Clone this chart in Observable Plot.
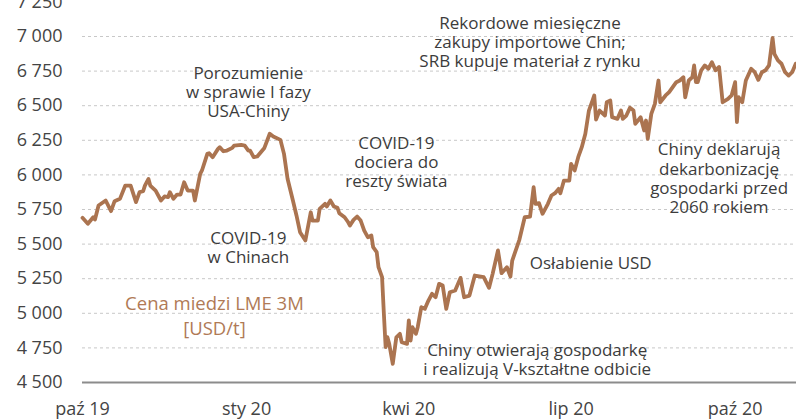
<!DOCTYPE html>
<html><head><meta charset="utf-8">
<script src="https://cdn.jsdelivr.net/npm/d3@7"></script>
<script src="https://cdn.jsdelivr.net/npm/@observablehq/plot@0.6"></script>
<style>
body{margin:0;background:#fff;}
#chart svg{display:block;}
</style>
</head><body><div id="chart"></div>
<script>
const dates = [
"2019-10-01","2019-10-04","2019-10-07","2019-10-08","2019-10-10","2019-10-14","2019-10-17","2019-10-19","2019-10-22","2019-10-25",
"2019-10-28","2019-10-31","2019-11-02","2019-11-04","2019-11-05","2019-11-07","2019-11-08","2019-11-11","2019-11-14","2019-11-16",
"2019-11-18","2019-11-19","2019-11-21","2019-11-23","2019-11-25","2019-11-27","2019-11-29","2019-12-02","2019-12-03","2019-12-06",
"2019-12-07","2019-12-10","2019-12-11","2019-12-13","2019-12-16","2019-12-17","2019-12-19","2019-12-21","2019-12-24","2019-12-25",
"2019-12-29","2019-12-31","2020-01-02","2020-01-03","2020-01-05","2020-01-07","2020-01-09","2020-01-11","2020-01-14","2020-01-16",
"2020-01-20","2020-01-22","2020-01-24","2020-01-27","2020-01-29","2020-01-31","2020-02-03","2020-02-06","2020-02-07","2020-02-10",
"2020-02-11","2020-02-14","2020-02-15","2020-02-17","2020-02-19","2020-02-21","2020-02-22","2020-02-25","2020-02-27","2020-02-28",
"2020-03-01","2020-03-03","2020-03-05","2020-03-07","2020-03-09","2020-03-11","2020-03-12","2020-03-14","2020-03-15","2020-03-17",
"2020-03-18","2020-03-19","2020-03-20","2020-03-21","2020-03-23","2020-03-25","2020-03-27","2020-03-28","2020-03-31","2020-04-01",
"2020-04-02","2020-04-03","2020-04-05","2020-04-06","2020-04-08","2020-04-10","2020-04-12","2020-04-14","2020-04-16","2020-04-18",
"2020-04-20","2020-04-22","2020-04-24","2020-04-27","2020-04-30","2020-05-02","2020-05-05","2020-05-08","2020-05-13","2020-05-16",
"2020-05-18","2020-05-21","2020-05-23","2020-05-26","2020-05-28","2020-05-29","2020-06-02","2020-06-05","2020-06-08","2020-06-10",
"2020-06-11","2020-06-13","2020-06-15","2020-06-18","2020-06-20","2020-06-22","2020-06-24","2020-06-25","2020-06-27","2020-06-30",
"2020-07-01","2020-07-03","2020-07-05","2020-07-07","2020-07-09","2020-07-11","2020-07-13","2020-07-14","2020-07-15","2020-07-17",
"2020-07-20","2020-07-21","2020-07-23","2020-07-24","2020-07-27","2020-07-29","2020-07-30","2020-08-01","2020-08-03","2020-08-05",
"2020-08-06","2020-08-09","2020-08-11","2020-08-12","2020-08-13","2020-08-15","2020-08-17","2020-08-19","2020-08-20","2020-08-23",
"2020-08-25","2020-08-27","2020-08-29","2020-08-31","2020-09-02","2020-09-03","2020-09-05","2020-09-07","2020-09-08","2020-09-09",
"2020-09-10","2020-09-12","2020-09-14","2020-09-16","2020-09-18","2020-09-20","2020-09-22","2020-09-24","2020-09-27","2020-09-29",
"2020-10-01","2020-10-02","2020-10-03","2020-10-05","2020-10-07","2020-10-10","2020-10-12","2020-10-14","2020-10-16","2020-10-18",
"2020-10-20","2020-10-22","2020-10-23","2020-10-25","2020-10-27","2020-10-29","2020-10-31","2020-11-02","2020-11-04"
];
const prices = [
5690,5647,5694,5678,5779,5815,5738,5810,5827,5923,
5923,5803,5875,5882,5923,5971,5923,5887,5815,5844,
5839,5875,5827,5858,5858,5947,5887,5887,5815,6007,
6032,6152,6157,6128,6188,6200,6171,6176,6195,6212,
6217,6212,6176,6176,6128,6133,6164,6195,6297,6277,
6253,6152,5972,5815,5707,5586,5526,5730,5670,5670,
5755,5791,5772,5815,5772,5762,5723,5694,5658,5634,
5675,5699,5670,5598,5550,5562,5478,5442,5333,5261,
5000,4755,4827,4780,4635,4827,4852,4791,4779,4948,
4803,4900,4852,4900,5044,5032,5092,5141,5116,5213,
5201,5032,5152,5165,5256,5116,5128,5273,5261,5184,
5285,5454,5290,5333,5266,5381,5531,5694,5699,5911,
5791,5796,5719,5791,5851,5868,5899,5868,5959,5959,
6080,6032,6128,6200,6297,6465,6537,6574,6400,6465,
6429,6525,6537,6417,6405,6465,6405,6429,6485,6465,
6369,6417,6321,6393,6261,6441,6513,6682,6525,6574,
6598,6634,6670,6682,6706,6561,6682,6706,6791,6670,
6670,6756,6791,6767,6814,6756,6780,6525,6550,6574,
6670,6381,6561,6525,6682,6767,6742,6687,6742,6756,
6791,6990,6875,6827,6803,6742,6718,6742,6803
];
const yTicks = [4500,4750,5000,5250,5500,5750,6000,6250,6500,6750,7000,7250];
const gridTicks = [4750,5000,5250,5500,5750,6000,6250,6500,6750,7000];
const xTickDates = ["2019-10-01","2020-01-01","2020-04-01","2020-07-01","2020-10-01"];
const xTickLabels = ["paź 19","sty 20","kwi 20","lip 20","paź 20"];

const noteTexts = [
  "Porozumienie\nw sprawie I fazy\nUSA-Chiny",
  "COVID-19\nw Chinach",
  "COVID-19\ndociera do\nreszty świata",
  "Rekordowe miesięczne\nzakupy importowe Chin;\nSRB kupuje materiał z rynku",
  "Chiny deklarują\ndekarbonizację\ngospodarki przed\n2060 rokiem",
  "Osłabienie USD",
  "Chiny otwierają gospodarkę\ni realizują V-kształtne odbicie"
];
const noteDates = ["2020-01-02","2020-01-02","2020-03-25","2020-06-08","2020-09-22","2020-07-12","2020-06-12"];
const noteValues = [6602,5475,6097,6964,5978,5367,4670];
const seriesLabel = "Cena miedzi LME 3M\n[USD/t]";
const seriesLabelDate = "2019-12-14";
const seriesLabelValue = 4991;

const series = dates.map((d,i)=>({date:new Date(d), price:prices[i]}));
const notes = noteTexts.map((t,i)=>({text:t, date:new Date(noteDates[i]), value:noteValues[i]}));
const fmt = v => d3.format(",")(v).replace(/,/g," ");
const tickMap = new Map(xTickDates.map((d,i)=>[+new Date(d), xTickLabels[i]]));

const lineColor = "#ab7450";

const chart = Plot.plot({
  width: 796,
  height: 419,
  marginLeft: 82,
  marginRight: 0,
  marginTop: 1.4,
  marginBottom: 37,
  style: {fontFamily: "'Open Sans', sans-serif", fontSize: "18px", color: "#444", background: "#fff"},
  x: {type: "utc", domain: [new Date("2019-10-01"), new Date("2020-11-04T10:00:00Z")]},
  y: {domain: [4500, 7250]},
  marks: [
    Plot.ruleY(gridTicks, {stroke: "#c8c8c8", strokeDasharray: "3,3", strokeWidth: 1}),
    Plot.ruleY([4500], {stroke: "#8c8c8c", strokeWidth: 2}),
    Plot.axisY({ticks: yTicks, tickSize: 0, tickPadding: 20, tickFormat: fmt, label: null, fontSize: 18, fill: "#444"}),
    Plot.axisX({ticks: xTickDates.map(d=>new Date(d)), tickSize: 0, tickPadding: 20, tickFormat: d => tickMap.get(+d), label: null, fontSize: 18, fill: "#444"}),
    Plot.line(series, {x: "date", y: "price", stroke: lineColor, strokeWidth: 3.8, strokeLinejoin: "round", strokeLinecap: "round"}),
    Plot.text(notes, {x: "date", y: "value", text: "text", fontSize: 17, lineHeight: 1.12, fill: "#3c3c3c", lineAnchor: "middle", textAnchor: "middle"}),
    Plot.text([seriesLabel], {x: new Date(seriesLabelDate), y: seriesLabelValue, text: d => d, fontSize: 18.5, lineHeight: 1.35, fill: "#b07a56", lineAnchor: "middle", textAnchor: "middle"})
  ]
});
document.getElementById("chart").appendChild(chart);
</script>
</body></html>
